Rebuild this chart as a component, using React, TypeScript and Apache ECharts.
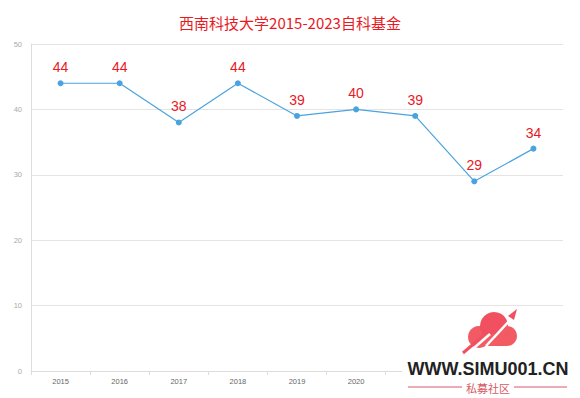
import React, { useEffect, useRef } from "react";
import * as echarts from "echarts";

const years = ["2015", "2016", "2017", "2018", "2019", "2020", "2021", "2022", "2023"];
const funds = [44, 44, 38, 44, 39, 40, 39, 29, 34];
const titleText = "西南科技大学2015-2023自科基金";

export default function App() {
  const ref = useRef<HTMLDivElement>(null);
  useEffect(() => {
    if (!ref.current) return;
    const chart = echarts.init(ref.current, undefined, { renderer: "svg" });
    chart.setOption({
      animation: false,
      backgroundColor: "#ffffff",
      title: {
        text: titleText,
        left: "center",
        top: 10,
        textStyle: { color: "#e8191f", fontSize: 15, fontWeight: "normal", fontFamily: "Noto Sans CJK SC" },
      },
      grid: { left: 31, right: 17, top: 44, bottom: 27, containLabel: false },
      xAxis: {
        type: "category",
        data: years,
        boundaryGap: true,
        axisLine: { show: true, lineStyle: { color: "#dddddd" } },
        axisTick: { show: true, length: 4, lineStyle: { color: "#dddddd" } },
        axisLabel: { color: "#666666", fontSize: 7.5, margin: 6, fontFamily: "Liberation Sans" },
      },
      yAxis: {
        type: "value",
        min: 0,
        max: 50,
        interval: 10,
        axisLine: { show: true, lineStyle: { color: "#dddddd" } },
        axisTick: { show: false },
        axisLabel: { color: "#aaaaaa", fontSize: 7.5, margin: 9, fontFamily: "Liberation Sans" },
        splitLine: { lineStyle: { color: "#e4e4e4" } },
      },
      series: [
        {
          type: "line",
          data: funds,
          symbol: "circle",
          symbolSize: 6,
          itemStyle: { color: "#4aa3e0" },
          lineStyle: { color: "#4aa3e0", width: 1.2 },
          label: {
            show: true,
            position: "top",
            distance: 6,
            color: "#e8191f",
            fontSize: 14,
            fontFamily: "Liberation Sans",
          },
        },
      ],
      graphic: [
        { type: "rect", shape: { x: 402, y: 356, width: 178, height: 42 }, style: { fill: "#ffffff" }, z: 100 },
        { type: "circle", shape: { cx: 479, cy: 337, r: 11 }, style: { fill: "#f25a64" }, z: 101 },
        { type: "circle", shape: { cx: 494, cy: 326, r: 14 }, style: { fill: "#f05060" }, z: 101 },
        { type: "circle", shape: { cx: 507, cy: 336, r: 10 }, style: { fill: "#f25a64" }, z: 101 },
        { type: "rect", shape: { x: 476, y: 334, width: 34, height: 12, r: 5 }, style: { fill: "#f25a64" }, z: 101 },
        { type: "polyline", shape: { points: [[463, 353], [490, 330]] }, style: { stroke: "#f05060", lineWidth: 3 }, z: 102 },
        { type: "polyline", shape: { points: [[474, 348], [490, 334]] }, style: { stroke: "#ffffff", lineWidth: 2.5 }, z: 102 },
        { type: "polyline", shape: { points: [[486, 346], [512, 318]] }, style: { stroke: "#ffffff", lineWidth: 2.5 }, z: 102 },
        { type: "polygon", shape: { points: [[508, 316], [517, 309], [514, 320]] }, style: { fill: "#f05060" }, z: 102 },
        {
          type: "text",
          x: 488,
          y: 369,
          z: 103,
          style: {
            text: "WWW.SIMU001.CN",
            fill: "#222222",
            font: "bold 18px 'Liberation Sans'",
            textAlign: "center",
            textVerticalAlign: "middle",
          },
        },
        {
          type: "text",
          x: 488,
          y: 388,
          z: 103,
          style: {
            text: "私募社区",
            fill: "#d65a66",
            font: "11px 'Noto Sans CJK SC'",
            textAlign: "center",
            textVerticalAlign: "middle",
          },
        },
        { type: "line", shape: { x1: 408, y1: 387, x2: 462, y2: 387 }, style: { stroke: "#d65a66", lineWidth: 1 }, z: 103 },
        { type: "line", shape: { x1: 514, y1: 387, x2: 567, y2: 387 }, style: { stroke: "#d65a66", lineWidth: 1 }, z: 103 },
      ],
    });
    return () => chart.dispose();
  }, []);
  return <div ref={ref} style={{ width: 580, height: 398, position: "absolute", left: 0, top: 0 }} />;
}
